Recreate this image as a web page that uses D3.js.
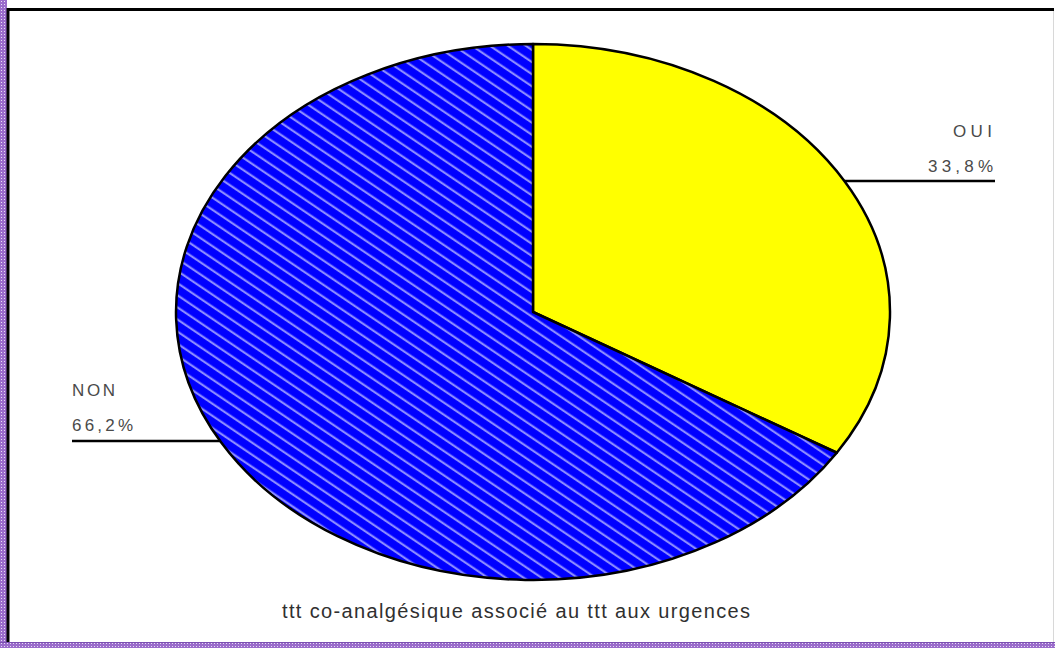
<!DOCTYPE html>
<html>
<head>
<meta charset="utf-8">
<script src="https://cdn.jsdelivr.net/npm/d3@7"></script>
<style>
  body { margin: 0; background: #fff; }
  svg { display: block; }
</style>
</head>
<body>
<div id="chart"></div>
<script>
// data
var categories = ["OUI", "NON"];
var values = [33.8, 66.2];
var labels = ["33,8%", "66,2%"];
var title = "ttt co-analgésique associé au ttt aux urgences";

var width = 1055, height = 648;
var cx = 533, cy = 312, rx = 357, ry = 268;

var svg = d3.select("#chart").append("svg")
    .attr("width", width)
    .attr("height", height);

var defs = svg.append("defs");

// purple dotted frame pattern
var frame = defs.append("pattern")
    .attr("id", "frame")
    .attr("patternUnits", "userSpaceOnUse")
    .attr("width", 3).attr("height", 3);
frame.append("rect").attr("width", 3).attr("height", 3).attr("fill", "#9a6ccb");
frame.append("rect").attr("x", 1).attr("y", 1).attr("width", 1).attr("height", 1).attr("fill", "#e8dcf5");

// blue hatch
var hatch = defs.append("pattern")
    .attr("id", "hatch")
    .attr("patternUnits", "userSpaceOnUse")
    .attr("width", 12).attr("height", 12)
    .attr("patternTransform", "rotate(42)");
hatch.append("rect").attr("width", 12).attr("height", 12).attr("fill", "#0000ff");
hatch.append("rect").attr("y", 4).attr("width", 12).attr("height", 2.6).attr("fill", "#8c8cff");

var colors = { OUI: "#ffff00", NON: "url(#hatch)" };

// frame
svg.append("rect").attr("x", 0).attr("y", 0).attr("width", 7).attr("height", height).attr("fill", "url(#frame)");
svg.append("rect").attr("x", 0).attr("y", 642).attr("width", width).attr("height", 6).attr("fill", "url(#frame)");
svg.append("line").attr("x1", 0).attr("x2", width).attr("y1", 642.5).attr("y2", 642.5)
    .attr("stroke", "#7a4fb0").attr("stroke-width", 1);
svg.append("line").attr("x1", 8).attr("x2", 8).attr("y1", 8).attr("y2", 642)
    .attr("stroke", "#000").attr("stroke-width", 3);
svg.append("line").attr("x1", 7).attr("x2", 1054).attr("y1", 9.5).attr("y2", 9.5)
    .attr("stroke", "#000").attr("stroke-width", 3);
svg.append("line").attr("x1", 1053.5).attr("x2", 1053.5).attr("y1", 11).attr("y2", 642)
    .attr("stroke", "#d8d8d8").attr("stroke-width", 1);

// pie, drawn as a circle squashed into an ellipse
var pie = d3.pie().sort(null).value(function(d){ return d; });
var arc = d3.arc().innerRadius(0).outerRadius(rx);

var g = svg.append("g")
    .attr("transform", "translate(" + cx + "," + cy + ") scale(1," + (ry / rx) + ")");

g.selectAll(".slice")
    .data(pie(values))
    .enter()
    .append("path")
    .attr("class", "slice")
    .attr("d", arc)
    .attr("fill", function(d, i){ return colors[categories[i]]; })
    .attr("stroke", "#000")
    .attr("stroke-width", 2.5)
    .attr("stroke-linejoin", "round")
    .attr("vector-effect", "non-scaling-stroke");

// leader lines + labels
var labelY = [181, 441];
function edgeX(y, side) {
    var t = (y - cy) / ry;
    return cx + side * rx * Math.sqrt(1 - t * t);
}

var ann = [
    { name: categories[0], pct: labels[0], y: labelY[0], side: 1, x0: 995 },
    { name: categories[1], pct: labels[1], y: labelY[1], side: -1, x0: 72 }
];

ann.forEach(function(a){
    var ex = edgeX(a.y, a.side);
    svg.append("line")
        .attr("x1", ex).attr("x2", a.x0)
        .attr("y1", a.y).attr("y2", a.y)
        .attr("stroke", "#000").attr("stroke-width", 2.5);
});

var lab = { fontFamily: "Arial, 'Liberation Sans', sans-serif", size: 17, fill: "#4a4a4a" };

// OUI, right aligned near x=993
svg.append("text").attr("x", 953).attr("y", 137).text(ann[0].name)
    .attr("textLength", 39).attr("lengthAdjust", "spacing");
svg.append("text").attr("x", 928).attr("y", 172).text(ann[0].pct)
    .attr("textLength", 65).attr("lengthAdjust", "spacing");
// NON
svg.append("text").attr("x", 72).attr("y", 396).text(ann[1].name)
    .attr("textLength", 43).attr("lengthAdjust", "spacing");
svg.append("text").attr("x", 72).attr("y", 431).text(ann[1].pct)
    .attr("textLength", 61).attr("lengthAdjust", "spacing");

svg.selectAll("text")
    .attr("font-family", lab.fontFamily)
    .attr("font-size", lab.size)
    .attr("fill", lab.fill);

svg.append("text")
    .attr("x", 282).attr("y", 618)
    .attr("font-family", lab.fontFamily)
    .attr("font-size", 20)
    .attr("fill", "#303030")
    .attr("textLength", 468).attr("lengthAdjust", "spacing")
    .text(title);
</script>
</body>
</html>
